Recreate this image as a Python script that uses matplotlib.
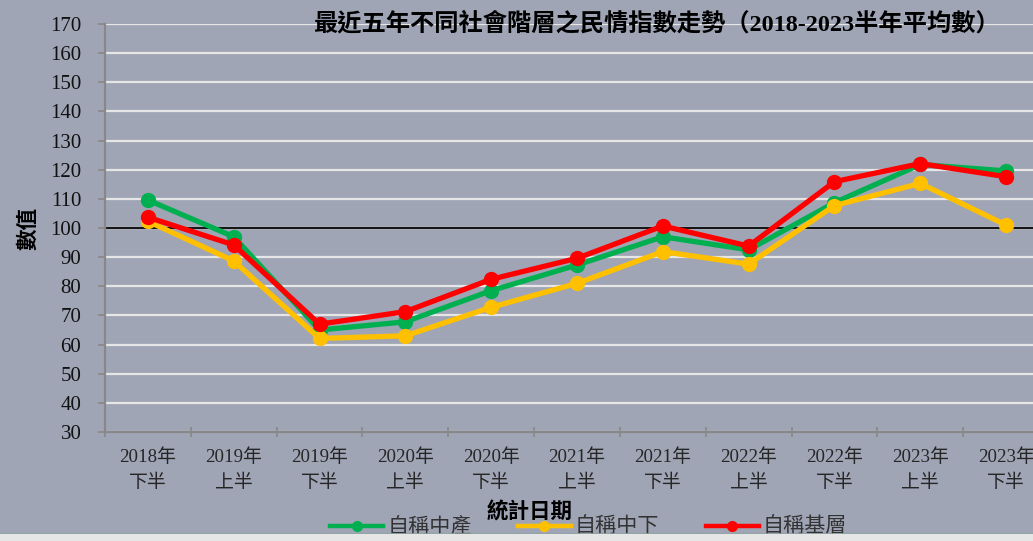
import numpy as np
import matplotlib.pyplot as plt
from matplotlib.ticker import FixedLocator
from matplotlib.patches import Rectangle

plt.rcParams['font.family'] = ['Liberation Serif', 'Noto Sans CJK TC', 'DejaVu Sans']

# category labels (half-year periods)
periods = ['2018年\n下半', '2019年\n上半', '2019年\n下半', '2020年\n上半', '2020年\n下半',
           '2021年\n上半', '2021年\n下半', '2022年\n上半', '2022年\n下半', '2023年\n上半',
           '2023年\n下半']

# index values
middle = [109.6, 97.0, 65.0, 67.8, 78.5, 87.3, 97.0, 92.5, 108.7, 121.8, 119.6]
lower_middle = [102.3, 88.7, 62.1, 63.0, 72.8, 81.0, 91.9, 87.6, 107.7, 115.3, 101.0]
grassroots = [103.7, 94.2, 67.0, 71.3, 82.4, 89.6, 100.7, 93.8, 115.9, 122.1, 117.6]

series_names = ['自稱中產', '自稱中下', '自稱基層']
series_colors = ['#00B050', '#FFC000', '#FF0000']

bg = '#A0A5B6'
fig = plt.figure(figsize=(10.33, 5.41), dpi=100, facecolor=bg)
ax = fig.add_axes([0.1016, 0.2015, 0.9139, 0.7541])
ax.set_facecolor(bg)

x = np.arange(len(periods))
for vals, name, col in zip([middle, lower_middle, grassroots], series_names, series_colors):
    ax.plot(x, vals, color=col, lw=3.8, marker='o', ms=10, label=name, zorder=3)

ax.axhline(100, color='black', lw=1.3, zorder=2)

ax.set_ylim(30, 170)
ax.set_yticks(np.arange(30, 171, 10))
ax.set_xlim(-0.5, len(periods) - 0.5)
ax.set_xticks(x)
ax.set_xticklabels(periods, fontsize=13.6, color='#262626', linespacing=1.65)
ax.xaxis.set_minor_locator(FixedLocator(np.arange(-0.5, len(periods), 1.0)))
ax.tick_params(axis='x', which='major', length=0, pad=12)
ax.tick_params(axis='x', which='minor', length=7, width=1.2, color='#888888', direction='inout')
ax.tick_params(axis='y', length=5, width=1.2, color='#888888', labelsize=15,
               labelcolor='#111111', pad=12)

ax.grid(axis='y', color='#E6E6E6', lw=1.6, zorder=1)
for side in ['top', 'right']:
    ax.spines[side].set_visible(False)
for side in ['left', 'bottom']:
    ax.spines[side].set_color('#888888')
    ax.spines[side].set_linewidth(1.6)

ax.set_ylabel('數值', fontsize=15.5, fontweight='bold', labelpad=8)
ax.set_xlabel('統計日期', fontsize=15.5, fontweight='bold', va='center')
ax.xaxis.set_label_coords(0.45, -0.198)

fig.text(0.635, 0.957, '最近五年不同社會階層之民情指數走勢（2018-2023半年平均數）',
         ha='center', va='center', fontsize=17.5, fontweight='bold')

leg = fig.legend(loc='center', bbox_to_anchor=(0.57, 0.026), ncol=3, frameon=False,
                 handlelength=2.5, columnspacing=2.2, handletextpad=0.2, markerscale=0.7,
                 prop={'family': ['Noto Sans CJK TC'], 'size': 15.2})
for t in leg.get_texts():
    t.set_color('#333333')
for h in leg.get_lines():
    h.set_linewidth(3.2)

# light strip at the very bottom of the image
fig.patches.append(Rectangle((0, 0), 1, 7 / 541, transform=fig.transFigure,
                             facecolor='#E6E6E6', edgecolor='none', zorder=10))
fig.add_artist(plt.Line2D([0, 1], [7.5 / 541, 7.5 / 541], transform=fig.transFigure,
                          color='#8FA39F', lw=1.2, zorder=10))

fig.savefig('out.png', dpi=100, facecolor=bg)
